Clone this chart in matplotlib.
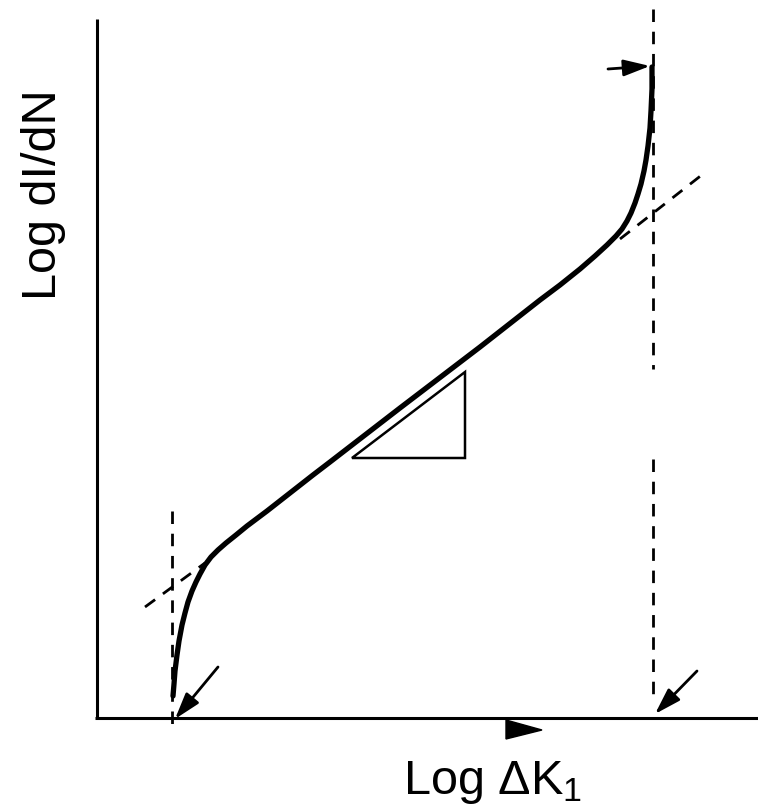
import matplotlib.pyplot as plt
from matplotlib.patches import Polygon

plt.rcParams['font.family'] = ['Liberation Sans', 'DejaVu Sans']
plt.rcParams['mathtext.fontset'] = 'custom'
plt.rcParams['mathtext.rm'] = 'Liberation Sans'
plt.rcParams['mathtext.it'] = 'Liberation Sans'

# schematic coordinates (image pixel space, y grows downward)
curve_x = [173, 174, 175, 177, 179, 182, 185, 188, 192, 196, 200, 205, 211, 218, 226, 236,
           247, 267, 290, 313, 330, 400, 480, 540, 560, 580, 595, 607, 616, 622, 627, 631,
           635, 638, 641, 644, 646, 648, 650, 651, 652, 652]
curve_y = [697, 685, 672, 656, 642, 626, 614, 603, 592, 583, 575, 566, 558, 551, 544, 536,
           527, 512, 494, 476, 463, 409, 348, 301, 286, 270, 257, 246, 237, 230, 222, 214,
           204, 195, 185, 172, 161, 147, 129, 112, 90, 68]

low_tangent_x = [145, 205]
low_tangent_y = [608, 564]
high_tangent_x = [620, 703]
high_tangent_y = [240, 175]

threshold_x = 172        # lower asymptote (threshold)
threshold_y = [512, 726]
critical_x = 653         # upper asymptote (fracture toughness)
critical_segments = [(10, 370), (460, 695)]

slope_triangle = [(352, 459), (465, 459), (465, 373)]

fig = plt.figure(figsize=(7.58, 8.12), dpi=100)
ax = fig.add_axes([0, 0, 1, 1])
ax.set_xlim(0, 758)
ax.set_ylim(812, 0)
ax.axis('off')

# axes lines
ax.plot([97, 97], [20, 719], color='black', lw=2.2, solid_capstyle='butt')
ax.plot([95, 758], [719, 719], color='black', lw=2.2, solid_capstyle='butt')
ax.add_patch(Polygon([(506, 721), (506, 740), (542, 731)], closed=True, color='black'))

# dashed guides
dash = dict(color='black', lw=2.0, ls=(0, (4.5, 3.5)))
ax.plot([threshold_x, threshold_x], threshold_y, **dash)
for y0, y1 in critical_segments:
    ax.plot([critical_x, critical_x], [y0, y1], **dash)
ax.plot(low_tangent_x, low_tangent_y, **dash)
ax.plot(high_tangent_x, high_tangent_y, **dash)

# crack growth curve
ax.plot(curve_x, curve_y, color='black', lw=3.8, solid_capstyle='round', solid_joinstyle='round')

# slope triangle
ax.add_patch(Polygon(slope_triangle, closed=True, fill=False, edgecolor='black', lw=1.8))

# arrows
arr = dict(arrowstyle='-|>,head_length=1.6,head_width=0.5', color='black', lw=2.0,
           shrinkA=0, shrinkB=0)
ax.annotate('', xy=(650, 67), xytext=(608, 70), arrowprops=arr)
ax.annotate('', xy=(175, 720), xytext=(218, 668), arrowprops=arr)
ax.annotate('', xy=(655, 715), xytext=(697, 672), arrowprops=arr)

# labels
ax.text(44, 195, 'Log dI/dN', rotation=90, fontsize=35, ha='center', va='center')
ax.text(493, 783, r'$\mathrm{Log\ \Delta K_1}$', fontsize=35, ha='center', va='center')

fig.savefig('out.png', dpi=100)
